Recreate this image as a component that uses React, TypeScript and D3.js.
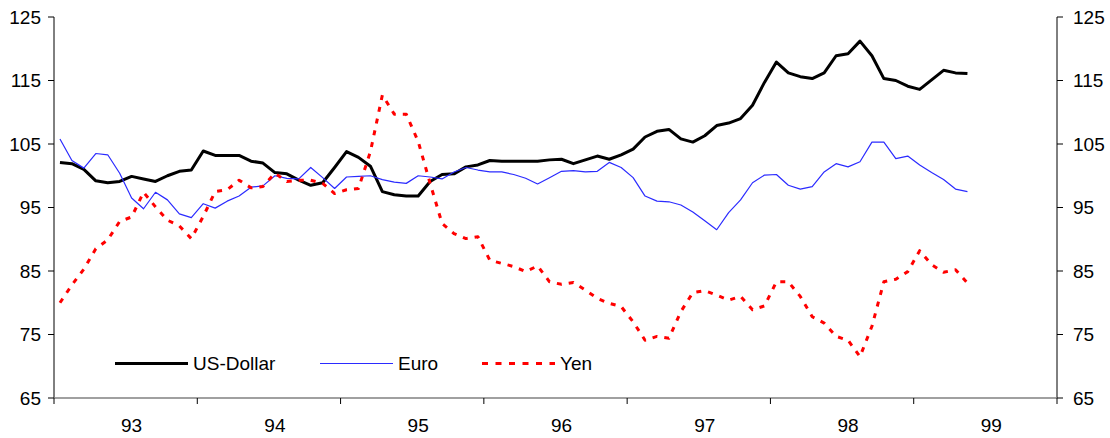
import React from "react";
import * as d3 from "d3";

// monthly index values, first point mid-1992
const usDollar = [
  102.1, 101.9, 101.0, 99.2, 98.9, 99.1, 99.9, 99.5, 99.1, 100.0,
  100.7, 100.9, 103.9, 103.2, 103.2, 103.2, 102.3, 102.0, 100.5, 100.3,
  99.3, 98.5, 98.9, 101.3, 103.8, 102.9, 101.5, 97.5, 97.0, 96.8,
  96.8, 99.1, 100.2, 100.3, 101.4, 101.7, 102.4, 102.3, 102.3, 102.3,
  102.3, 102.5, 102.6, 101.9, 102.5, 103.1, 102.6, 103.3, 104.2, 106.1,
  107.0, 107.3, 105.8, 105.3, 106.3, 107.9, 108.3, 109.0, 111.1, 114.7,
  117.9, 116.2, 115.6, 115.3, 116.2, 118.9, 119.2, 121.2, 118.9, 115.3,
  115.0, 114.1, 113.6, 115.1, 116.6, 116.2, 116.1,
];

const euro = [
  105.8, 102.4, 101.2, 103.5, 103.3, 100.4, 96.5, 94.8, 97.4, 96.2,
  94.0, 93.4, 95.6, 94.9, 96.0, 96.8, 98.2, 98.4, 100.0, 99.6,
  99.5, 101.3, 99.7, 98.0, 99.8, 99.9, 100.0, 99.4, 99.0, 98.8,
  100.0, 99.8, 99.5, 100.6, 101.3, 100.9, 100.6, 100.6, 100.2, 99.6,
  98.7, 99.7, 100.7, 100.8, 100.6, 100.7, 102.1, 101.3, 99.7, 96.8,
  96.0, 95.9, 95.4, 94.3, 92.9, 91.5, 94.2, 96.2, 98.9, 100.1,
  100.2, 98.5, 97.9, 98.3, 100.6, 101.9, 101.4, 102.2, 105.3, 105.3,
  102.7, 103.1, 101.7, 100.5, 99.4, 97.9, 97.5,
];

const yen = [
  80.0, 82.8, 85.3, 88.5, 89.9, 92.8, 93.5, 97.4, 95.1, 93.0,
  92.1, 90.1, 93.6, 97.5, 97.8, 99.3, 98.1, 98.3, 100.4, 99.1,
  99.3, 99.3, 98.8, 97.2, 97.8, 98.0, 103.8, 112.7, 109.7, 109.7,
  105.4, 98.8, 92.5, 90.9, 90.1, 90.4, 86.7, 86.2, 85.7, 84.9,
  85.8, 83.3, 82.9, 83.2, 82.0, 80.7, 79.9, 79.4, 77.0, 74.1,
  74.7, 74.4, 78.6, 81.6, 81.9, 81.2, 80.4, 81.0, 78.9, 79.5,
  83.3, 83.3, 81.0, 77.8, 76.8, 74.7, 74.1, 71.5, 76.3, 83.3,
  83.7, 84.9, 88.2, 86.0, 84.8, 85.2, 83.1,
];

const years = ["93", "94", "95", "96", "97", "98", "99"];
const yTicks = [65, 75, 85, 95, 105, 115, 125];
const monthsPerYear = 12;

const font = "'Liberation Sans', Arial, sans-serif";

export default function App() {
  const width = 1110;
  const height = 438;
  const left = 54;
  const right = 1057;
  const top = 17;
  const bottom = 398;

  // one slot per month, 7 years on the axis
  const slots = d3.range(years.length * monthsPerYear);
  const x = d3.scaleBand<number>().domain(slots).range([left, right]);
  const y = d3.scaleLinear().domain([65, 125]).range([bottom, top]);

  const line = d3
    .line<number>()
    .x((_, i) => (x(i) as number) + x.bandwidth() / 2)
    .y((d) => y(d));

  const series = [
    { name: "US-Dollar", data: usDollar, color: "#000000", w: 3, dash: undefined, lx: 115 },
    { name: "Euro", data: euro, color: "#2b2bff", w: 1.2, dash: undefined, lx: 320 },
    { name: "Yen", data: yen, color: "#ff0000", w: 3, dash: "5 7", lx: 482 },
  ];

  const yearEdges = d3.range(years.length + 1).map((k) => left + k * x.bandwidth() * monthsPerYear);

  return (
    <svg
      width={width}
      height={height}
      style={{ position: "absolute", left: 0, top: 0, background: "#fff" }}
      fontFamily={font}
    >
      {/* lines */}
      {series.map((s) => (
        <path
          key={s.name}
          d={line(s.data) || ""}
          fill="none"
          stroke={s.color}
          strokeWidth={s.w}
          strokeDasharray={s.dash}
          strokeLinejoin="round"
        />
      ))}

      {/* left axis */}
      <line x1={left} x2={left} y1={top} y2={bottom} stroke="#000" />
      {yTicks.map((t) => (
        <g key={"l" + t}>
          <line x1={left - 6} x2={left} y1={y(t)} y2={y(t)} stroke="#000" />
          <text x={41} y={y(t)} dy="0.35em" textAnchor="end" fontSize={19}>
            {t}
          </text>
        </g>
      ))}

      {/* right axis */}
      <line x1={right} x2={right} y1={top} y2={bottom} stroke="#000" />
      {yTicks.map((t) => (
        <g key={"r" + t}>
          <line x1={right} x2={right + 6} y1={y(t)} y2={y(t)} stroke="#000" />
          <text x={1073} y={y(t)} dy="0.35em" textAnchor="start" fontSize={19}>
            {t}
          </text>
        </g>
      ))}

      {/* x axis */}
      <line x1={left} x2={right} y1={bottom} y2={bottom} stroke="#808080" strokeWidth={1.5} />
      {yearEdges.map((ex, k) => (
        <line key={"t" + k} x1={ex} x2={ex} y1={bottom} y2={bottom + 6} stroke="#000" />
      ))}
      {years.map((yr, k) => (
        <text
          key={yr}
          x={(x(k * monthsPerYear + 6) as number) + x.bandwidth() / 2}
          y={432}
          textAnchor="middle"
          fontSize={19}
        >
          {yr}
        </text>
      ))}

      {/* legend */}
      {series.map((s) => (
        <g key={"lg" + s.name}>
          <line
            x1={s.lx}
            x2={s.lx + 73}
            y1={363.5}
            y2={363.5}
            stroke={s.color}
            strokeWidth={s.w}
            strokeDasharray={s.dash ? "6 7.5" : undefined}
          />
          <text x={s.lx + 78} y={363.5} dy="0.35em" fontSize={19}>
            {s.name}
          </text>
        </g>
      ))}
    </svg>
  );
}
